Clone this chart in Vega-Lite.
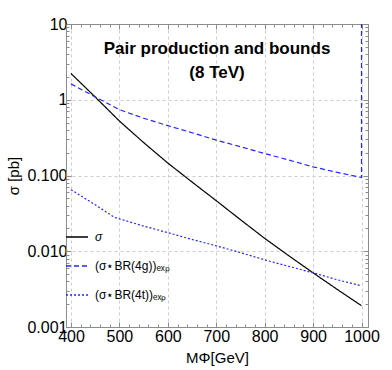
{
  "$schema": "https://vega.github.io/schema/vega-lite/v6.json",
  "width": 302,
  "height": 303,
  "autosize": {"type": "none"},
  "padding": {"left": 66, "top": 24, "right": 24, "bottom": 43},
  "background": "white",
  "config": {
    "font": "Liberation Sans",
    "view": {"stroke": "#8c8c8c", "strokeWidth": 1}
  },
  "title": {
    "text": ["Pair production and bounds", "(8 TeV)"],
    "fontSize": 17,
    "fontWeight": "bold",
    "color": "black",
    "anchor": "middle",
    "frame": "group",
    "baseline": "top",
    "lineHeight": 24,
    "offset": -66
  },
  "data": {
    "values": [
      {"series": "σ", "i": 0, "M": 400, "xs": 2.22},
      {"series": "σ", "i": 1, "M": 450, "xs": 1.087},
      {"series": "σ", "i": 2, "M": 500, "xs": 0.524},
      {"series": "σ", "i": 3, "M": 550, "xs": 0.272},
      {"series": "σ", "i": 4, "M": 600, "xs": 0.146},
      {"series": "σ", "i": 5, "M": 650, "xs": 0.082},
      {"series": "σ", "i": 6, "M": 700, "xs": 0.0465},
      {"series": "σ", "i": 7, "M": 750, "xs": 0.0261},
      {"series": "σ", "i": 8, "M": 800, "xs": 0.0148},
      {"series": "σ", "i": 9, "M": 850, "xs": 0.0087},
      {"series": "σ", "i": 10, "M": 900, "xs": 0.00519},
      {"series": "σ", "i": 11, "M": 950, "xs": 0.00313},
      {"series": "σ", "i": 12, "M": 1000, "xs": 0.00191},
      {"series": "(σ⋆BR(4g))ₑₓₚ", "i": 0, "M": 400, "xs": 1.62},
      {"series": "(σ⋆BR(4g))ₑₓₚ", "i": 1, "M": 450, "xs": 1.09},
      {"series": "(σ⋆BR(4g))ₑₓₚ", "i": 2, "M": 500, "xs": 0.74},
      {"series": "(σ⋆BR(4g))ₑₓₚ", "i": 3, "M": 550, "xs": 0.57},
      {"series": "(σ⋆BR(4g))ₑₓₚ", "i": 4, "M": 600, "xs": 0.455},
      {"series": "(σ⋆BR(4g))ₑₓₚ", "i": 5, "M": 650, "xs": 0.367},
      {"series": "(σ⋆BR(4g))ₑₓₚ", "i": 6, "M": 700, "xs": 0.293},
      {"series": "(σ⋆BR(4g))ₑₓₚ", "i": 7, "M": 750, "xs": 0.24},
      {"series": "(σ⋆BR(4g))ₑₓₚ", "i": 8, "M": 800, "xs": 0.195},
      {"series": "(σ⋆BR(4g))ₑₓₚ", "i": 9, "M": 850, "xs": 0.16},
      {"series": "(σ⋆BR(4g))ₑₓₚ", "i": 10, "M": 900, "xs": 0.13},
      {"series": "(σ⋆BR(4g))ₑₓₚ", "i": 11, "M": 950, "xs": 0.11},
      {"series": "(σ⋆BR(4g))ₑₓₚ", "i": 12, "M": 1000, "xs": 0.094},
      {"series": "(σ⋆BR(4g))ₑₓₚ", "i": 13, "M": 1000, "xs": 10},
      {"series": "(σ⋆BR(4t))ₑₓₚ", "i": 0, "M": 400, "xs": 0.065},
      {"series": "(σ⋆BR(4t))ₑₓₚ", "i": 1, "M": 450, "xs": 0.041},
      {"series": "(σ⋆BR(4t))ₑₓₚ", "i": 2, "M": 490, "xs": 0.028},
      {"series": "(σ⋆BR(4t))ₑₓₚ", "i": 3, "M": 550, "xs": 0.0215},
      {"series": "(σ⋆BR(4t))ₑₓₚ", "i": 4, "M": 600, "xs": 0.0176},
      {"series": "(σ⋆BR(4t))ₑₓₚ", "i": 5, "M": 650, "xs": 0.0143},
      {"series": "(σ⋆BR(4t))ₑₓₚ", "i": 6, "M": 700, "xs": 0.0118},
      {"series": "(σ⋆BR(4t))ₑₓₚ", "i": 7, "M": 750, "xs": 0.0096},
      {"series": "(σ⋆BR(4t))ₑₓₚ", "i": 8, "M": 800, "xs": 0.0077},
      {"series": "(σ⋆BR(4t))ₑₓₚ", "i": 9, "M": 850, "xs": 0.0063},
      {"series": "(σ⋆BR(4t))ₑₓₚ", "i": 10, "M": 900, "xs": 0.0052},
      {"series": "(σ⋆BR(4t))ₑₓₚ", "i": 11, "M": 950, "xs": 0.0042},
      {"series": "(σ⋆BR(4t))ₑₓₚ", "i": 12, "M": 1000, "xs": 0.0035}
    ]
  },
  "resolve": {"axis": {"x": "independent", "y": "independent"}},
  "layer": [
    {
      "mark": {"type": "line", "strokeWidth": 1.2, "clip": true},
      "encoding": {
        "x": {
          "field": "M", "type": "quantitative",
          "scale": {"domain": [389.7, 1013.4], "nice": false, "zero": false},
          "axis": {
            "orient": "bottom",
            "values": [400,420,440,460,480,500,520,540,560,580,600,620,640,660,680,700,720,740,760,780,800,820,840,860,880,900,920,940,960,980,1000],
            "labelExpr": "datum.value % 100 == 0 ? format(datum.value, 'd') : ''",
            "grid": true,
            "gridDash": [3, 3],
            "gridColor": "#cccccc",
            "gridOpacity": {"condition": {"test": "datum.value % 100 == 0", "value": 1}, "value": 0},
            "tickSize": {"condition": {"test": "datum.value % 100 == 0", "value": -5}, "value": -3},
            "tickColor": "#8c8c8c",
            "domainColor": "#8c8c8c",
            "labelFontSize": 16,
            "labelColor": "black",
            "labelPadding": 6,
            "labelFlush": false,
            "labelOverlap": false,
            "title": "MΦ[GeV]",
            "titleFontSize": 15,
            "titleFontWeight": "normal",
            "titleColor": "black",
            "titlePadding": 4
          }
        },
        "y": {
          "field": "xs", "type": "quantitative",
          "scale": {"type": "log", "domain": [0.001, 10], "nice": false},
          "axis": {
            "orient": "left",
            "values": [0.001,0.002,0.003,0.004,0.005,0.006,0.007,0.008,0.009,0.01,0.02,0.03,0.04,0.05,0.06,0.07,0.08,0.09,0.1,0.2,0.3,0.4,0.5,0.6,0.7,0.8,0.9,1,2,3,4,5,6,7,8,9,10],
            "labelExpr": "abs(log(datum.value)/LN10 - round(log(datum.value)/LN10)) < 0.000001 ? (datum.value >= 1 ? format(datum.value, 'd') : format(datum.value, '.3f')) : ''",
            "grid": true,
            "gridDash": [3, 3],
            "gridColor": "#cccccc",
            "gridOpacity": {"condition": {"test": "abs(log(datum.value)/LN10 - round(log(datum.value)/LN10)) < 0.000001", "value": 1}, "value": 0},
            "tickSize": {"condition": {"test": "abs(log(datum.value)/LN10 - round(log(datum.value)/LN10)) < 0.000001", "value": -5}, "value": -3},
            "tickColor": "#8c8c8c",
            "domainColor": "#8c8c8c",
            "labelFontSize": 16,
            "labelColor": "black",
            "labelPadding": 4,
            "labelFlush": false,
            "labelOverlap": false,
            "title": "σ [pb]",
            "titleFontSize": 15,
            "titleFontWeight": "normal",
            "titleColor": "black",
            "titlePadding": 5
          }
        },
        "color": {
          "field": "series", "type": "nominal",
          "scale": {"domain": ["σ", "(σ⋆BR(4g))ₑₓₚ", "(σ⋆BR(4t))ₑₓₚ"], "range": ["#000000", "#2424ff", "#2424ff"]},
          "legend": {
            "orient": "none", "legendX": -1, "legendY": 201, "title": null,
            "symbolType": "stroke", "symbolSize": 484, "symbolStrokeWidth": 1.5,
            "labelFontSize": 12, "labelColor": "black", "labelOffset": 6, "rowPadding": 11,
            "encode": {"labels": {"update": {"fontStyle": {"signal": "datum.label == 'σ' ? 'italic' : 'normal'"}}}}
          }
        },
        "strokeDash": {
          "field": "series", "type": "nominal",
          "scale": {"domain": ["σ", "(σ⋆BR(4g))ₑₓₚ", "(σ⋆BR(4t))ₑₓₚ"], "range": [[1, 0], [5, 3], [2, 2]]},
          "legend": {
            "orient": "none", "legendX": -1, "legendY": 201, "title": null,
            "symbolType": "stroke", "symbolSize": 484, "symbolStrokeWidth": 1.5,
            "labelFontSize": 12, "labelColor": "black", "labelOffset": 6, "rowPadding": 11,
            "encode": {"labels": {"update": {"fontStyle": {"signal": "datum.label == 'σ' ? 'italic' : 'normal'"}}}}
          }
        },
        "order": {"field": "i", "type": "quantitative"}
      }
    },
    {
      "mark": {"type": "point", "opacity": 0},
      "encoding": {
        "x": {
          "field": "M", "type": "quantitative",
          "axis": {
            "orient": "top",
            "values": [400,420,440,460,480,500,520,540,560,580,600,620,640,660,680,700,720,740,760,780,800,820,840,860,880,900,920,940,960,980,1000],
            "labels": false, "grid": false, "title": null,
            "tickSize": {"condition": {"test": "datum.value % 100 == 0", "value": -5}, "value": -3},
            "tickColor": "#8c8c8c", "domainColor": "#8c8c8c"
          }
        },
        "y": {
          "field": "xs", "type": "quantitative",
          "axis": {
            "orient": "right",
            "values": [0.001,0.002,0.003,0.004,0.005,0.006,0.007,0.008,0.009,0.01,0.02,0.03,0.04,0.05,0.06,0.07,0.08,0.09,0.1,0.2,0.3,0.4,0.5,0.6,0.7,0.8,0.9,1,2,3,4,5,6,7,8,9,10],
            "labels": false, "grid": false, "title": null,
            "tickSize": {"condition": {"test": "abs(log(datum.value)/LN10 - round(log(datum.value)/LN10)) < 0.000001", "value": -5}, "value": -3},
            "tickColor": "#8c8c8c", "domainColor": "#8c8c8c"
          }
        }
      }
    }
  ]
}
